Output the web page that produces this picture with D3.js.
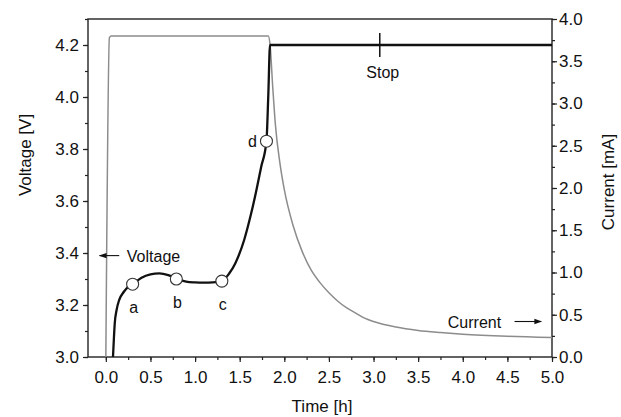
<!DOCTYPE html>
<html>
<head>
<meta charset="utf-8">
<script src="https://cdn.jsdelivr.net/npm/d3@7"></script>
<style>
  body { margin: 0; background: #fff; }
  text { font-family: "Liberation Sans", Arial, sans-serif; fill: #111; }
</style>
</head>
<body>
<div id="graph"></div>
<script>
// voltage curve (black), time in h, volts
const vTime = [0.08, 0.09, 0.10, 0.12, 0.15, 0.20, 0.25, 0.30, 0.40, 0.50, 0.60, 0.70, 0.80, 0.90, 1.00, 1.10, 1.20, 1.30, 1.38, 1.45, 1.55, 1.62, 1.68, 1.74, 1.80, 1.82, 1.84, 5.00];
const vVolt = [3.00, 3.07, 3.13, 3.18, 3.22, 3.25, 3.27, 3.28, 3.305, 3.318, 3.322, 3.315, 3.30, 3.29, 3.287, 3.286, 3.287, 3.292, 3.32, 3.36, 3.45, 3.54, 3.63, 3.73, 3.83, 4.00, 4.20, 4.20];

// current curve (grey), time in h, mA
const iTime = [0.00, 0.04, 0.06, 1.82, 1.84, 1.87, 1.90, 1.95, 2.00, 2.10, 2.20, 2.30, 2.40, 2.50, 2.60, 2.70, 2.80, 2.90, 3.00, 3.25, 3.50, 3.75, 4.00, 4.50, 5.00];
const iCurr = [0.00, 3.78, 3.80, 3.80, 3.70, 3.20, 2.75, 2.30, 1.98, 1.55, 1.25, 1.03, 0.88, 0.76, 0.66, 0.58, 0.52, 0.46, 0.42, 0.355, 0.315, 0.29, 0.27, 0.245, 0.23];

// marked points a-d
const markLabels = ["a", "b", "c", "d"];
const markTime = [0.30, 0.79, 1.30, 1.80];
const markVolt = [3.28, 3.30, 3.292, 3.83];

const stopTime = 3.07;
const xTicks = [0, 0.5, 1, 1.5, 2, 2.5, 3, 3.5, 4, 4.5, 5];
const yTicks = [3.0, 3.2, 3.4, 3.6, 3.8, 4.0, 4.2];
const y2Ticks = [0, 0.5, 1, 1.5, 2, 2.5, 3, 3.5, 4];

const W = 621, H = 417;
const L = 88, R = 552, T = 19, B = 357;

const svg = d3.select("#graph").append("svg")
  .attr("width", W).attr("height", H);

const defs = svg.append("defs");
defs.append("marker").attr("id", "arrow")
  .attr("viewBox", "0 0 10 10").attr("refX", 9).attr("refY", 5)
  .attr("markerWidth", 7).attr("markerHeight", 7).attr("orient", "auto-start-reverse")
  .append("path").attr("d", "M0,1.5 L10,5 L0,8.5 Z").attr("fill", "#111");

const x = d3.scaleLinear().domain([-0.2, 5.0]).range([L, R]);
const y = d3.scaleLinear().domain([3.0, 4.3]).range([B, T]);
const y2 = d3.scaleLinear().domain([0, 4.0]).range([B, T]);

// minor ticks first
svg.append("g").attr("transform", "translate(0," + B + ")")
  .call(d3.axisBottom(x).tickValues(d3.range(0, 5.01, 0.25)).tickSize(3).tickFormat(""))
  .call(g => g.select(".domain").remove());
svg.append("g").attr("transform", "translate(" + L + ",0)")
  .call(d3.axisLeft(y).tickValues(d3.range(3.0, 4.31, 0.1)).tickSize(3).tickFormat(""))
  .call(g => g.select(".domain").remove());
svg.append("g").attr("transform", "translate(" + R + ",0)")
  .call(d3.axisRight(y2).tickValues(d3.range(0, 4.01, 0.25)).tickSize(3).tickFormat(""))
  .call(g => g.select(".domain").remove());

const xAxis = svg.append("g").attr("transform", "translate(0," + B + ")")
  .call(d3.axisBottom(x).tickValues(xTicks).tickSize(5).tickPadding(9).tickFormat(d3.format(".1f")));
const yAxis = svg.append("g").attr("transform", "translate(" + L + ",0)")
  .call(d3.axisLeft(y).tickValues(yTicks).tickSize(5).tickPadding(4).tickFormat(d3.format(".1f")));
const y2Axis = svg.append("g").attr("transform", "translate(" + R + ",0)")
  .call(d3.axisRight(y2).tickValues(y2Ticks).tickSize(5).tickPadding(2).tickFormat(d3.format(".1f")));

[xAxis, yAxis, y2Axis].forEach(g => {
  g.selectAll("text").style("font-size", "17px").style("font-family", '"Liberation Sans", Arial, sans-serif').attr("fill", "#111");
  g.select(".domain").remove();
});
svg.selectAll(".tick line").attr("stroke", "#222").attr("stroke-width", 1.2);

// frame
svg.append("rect").attr("x", L).attr("y", T).attr("width", R - L).attr("height", B - T)
  .attr("fill", "none").attr("stroke", "#222").attr("stroke-width", 1.4);

// current
const iData = iTime.map((t, i) => [t, iCurr[i]]);
svg.append("path").datum(iData)
  .attr("fill", "none").attr("stroke", "#8c8c8c").attr("stroke-width", 1.5)
  .attr("d", d3.line().x(d => x(d[0])).y(d => y2(d[1])).curve(d3.curveMonotoneX));

// voltage
const vData = vTime.map((t, i) => [t, vVolt[i]]);
svg.append("path").datum(vData)
  .attr("fill", "none").attr("stroke", "#111").attr("stroke-width", 2.3)
  .attr("d", d3.line().x(d => x(d[0])).y(d => y(d[1])).curve(d3.curveMonotoneX));

// stop marker
svg.append("line")
  .attr("x1", x(stopTime)).attr("x2", x(stopTime))
  .attr("y1", y(4.2) - 12).attr("y2", y(4.2) + 12)
  .attr("stroke", "#111").attr("stroke-width", 1.5);
svg.append("text").attr("x", x(stopTime) + 3).attr("y", y(4.2) + 33)
  .attr("text-anchor", "middle").style("font-size", "16px").text("Stop");

// marked points
svg.selectAll("circle.mark").data(markTime).enter().append("circle")
  .attr("class", "mark")
  .attr("cx", d => x(d)).attr("cy", (d, i) => y(markVolt[i]))
  .attr("r", 6).attr("fill", "#fff").attr("stroke", "#333").attr("stroke-width", 1.1);
svg.selectAll("text.mark").data(markLabels).enter().append("text")
  .attr("class", "mark")
  .attr("x", (d, i) => i < 3 ? x(markTime[i]) + 1 : x(markTime[i]) - 14)
  .attr("y", (d, i) => i < 3 ? y(markVolt[i]) + 29 : y(markVolt[i]) + 6)
  .attr("text-anchor", "middle").style("font-size", "16px").text(d => d);

// annotations
svg.append("line")
  .attr("x1", x(0.15)).attr("x2", x(-0.07))
  .attr("y1", y(3.39)).attr("y2", y(3.39))
  .attr("stroke", "#111").attr("stroke-width", 1.1).attr("marker-end", "url(#arrow)");
svg.append("text").attr("x", x(0.235)).attr("y", y(3.39) + 6)
  .style("font-size", "16px").text("Voltage");

svg.append("line")
  .attr("x1", x(4.58)).attr("x2", x(4.88))
  .attr("y1", y2(0.42)).attr("y2", y2(0.42))
  .attr("stroke", "#111").attr("stroke-width", 1.1).attr("marker-end", "url(#arrow)");
svg.append("text").attr("x", x(4.43)).attr("y", y2(0.42) + 6)
  .attr("text-anchor", "end").style("font-size", "16px").text("Current");

// axis titles
svg.append("text").attr("x", (L + R) / 2 + 2).attr("y", 412)
  .attr("text-anchor", "middle").style("font-size", "17px").text("Time [h]");
svg.append("text").attr("transform", "translate(31,155) rotate(-90)")
  .attr("text-anchor", "middle").style("font-size", "17px").text("Voltage [V]");
svg.append("text").attr("transform", "translate(614,182) rotate(-90)")
  .attr("text-anchor", "middle").style("font-size", "17px").text("Current [mA]");
</script>
</body>
</html>
